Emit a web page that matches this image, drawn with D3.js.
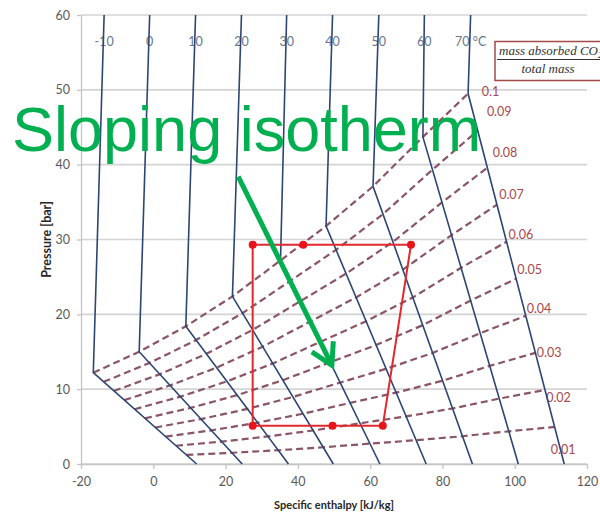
<!DOCTYPE html>
<html>
<head>
<meta charset="utf-8">
<script src="https://cdn.jsdelivr.net/npm/d3@7"></script>
<style>
  html, body { margin: 0; padding: 0; background: #ffffff; }
  svg { display: block; }
</style>
</head>
<body>
<svg id="chart" width="600" height="514"></svg>
<script>
// Isotherms in °C. Each one drops almost vertically from 60 bar to its knee,
// then slopes down to the 0 bar line.
const temperatures = [-10, 0, 10, 20, 30, 40, 50, 60, 70];
const temperatureLabels = ["-10", "0", "10", "20", "30", "40", "50", "60", "70 °C"];
const topEnthalpy  = [-13.6, -1.0, 11.7, 24.4, 36.9, 49.6, 62.4, 75.0, 87.8];   // kJ/kg at 60 bar
const kneeEnthalpy = [-16.6, -3.9, 9.0, 21.9, 35.2, 47.8, 60.8, 74.6, 87.1];    // kJ/kg at the knee
const kneePressure = [12.2, 15.0, 18.4, 22.4, 27.2, 31.8, 37.1, 43.7, 49.5];    // bar at the knee
const baseEnthalpy = [12.0, 24.6, 37.4, 49.8, 62.7, 75.5, 88.3, 101.0, 113.7];  // kJ/kg at 0 bar

// Mass fraction of absorbed CO2: 0 on the 0 bar line, 0.1 at the isotherm knees
const concentrations = [0.01, 0.02, 0.03, 0.04, 0.05, 0.06, 0.07, 0.08, 0.09, 0.1];
const concentrationLabels = ["0.01", "0.02", "0.03", "0.04", "0.05", "0.06", "0.07", "0.08", "0.09", "0.1"];

// Cycle drawn on top of the chart
const cycleEnthalpy = [27.5, 41.5, 71.3, 63.5, 49.6, 27.5];
const cyclePressure = [29.3, 29.3, 29.3, 5.1, 5.1, 5.1];

const xTicks = [-20, 0, 20, 40, 60, 80, 100, 120];
const yTicks = [0, 10, 20, 30, 40, 50, 60];

// Where each concentration label sits (enthalpy, pressure of its left/middle point)
const concentrationLabelAt = [
  [110.0, 1.9], [108.7, 8.9], [106.1, 14.9], [103.3, 20.7], [100.7, 26.0],
  [98.3, 30.6], [95.7, 36.0], [93.9, 41.6], [92.3, 47.1], [90.9, 49.8]
];
const temperatureLabelPressure = 56.4;

// Annotation arrow (enthalpy, pressure)
const arrowFrom = [23.5, 38.4];
const arrowTo = [49.4, 13.2];

const svg = d3.select("#chart");
const x = d3.scaleLinear().domain([-20, 120]).range([81, 587]);
const y = d3.scaleLinear().domain([0, 60]).range([464, 15]);

const tickFont = "Lato, 'Open Sans', sans-serif";
const plainNumber = d => String(d);

// Horizontal gridlines
svg.append("g")
  .selectAll("line")
  .data(yTicks)
  .join("line")
  .attr("x1", x(-20)).attr("x2", x(120))
  .attr("y1", d => y(d)).attr("y2", d => y(d))
  .attr("stroke", "#d4d4d4")
  .attr("stroke-width", 1.6);

// Axes
const yAxis = svg.append("g")
  .attr("transform", `translate(${x(-20)},0)`)
  .call(d3.axisLeft(y).tickValues(yTicks).tickFormat(plainNumber)
    .tickSize(4).tickPadding(7).tickSizeOuter(0));
const xAxis = svg.append("g")
  .attr("transform", `translate(0,${y(0)})`)
  .call(d3.axisBottom(x).tickValues(xTicks).tickFormat(plainNumber)
    .tickSize(5).tickPadding(8).tickSizeOuter(0));
[yAxis, xAxis].forEach(g => {
  g.select(".domain").attr("stroke", "#c4c4c4").attr("stroke-width", 1.3);
  g.selectAll(".tick line").attr("stroke", "#c4c4c4").attr("stroke-width", 1.3);
  g.selectAll(".tick text")
    .attr("fill", "#595959")
    .style("font-family", tickFont)
    .style("font-size", "12.5px");
});

// Axis titles
svg.append("text")
  .attr("x", (x(-20) + x(120)) / 2)
  .attr("y", 509)
  .attr("text-anchor", "middle")
  .attr("fill", "#262626")
  .style("font-family", tickFont)
  .style("font-weight", "bold")
  .style("font-size", "11px")
  .text("Specific enthalpy [kJ/kg]");
svg.append("text")
  .attr("transform", `translate(51,${(y(0) + y(60)) / 2}) rotate(-90)`)
  .attr("text-anchor", "middle")
  .attr("fill", "#262626")
  .style("font-family", tickFont)
  .style("font-weight", "bold")
  .style("font-size", "12.5px")
  .text("Pressure [bar]");

// Temperature labels (drawn before the isotherms so the lines cross them)
svg.append("g")
  .selectAll("text")
  .data(temperatures)
  .join("text")
  .attr("x", (d, i) => x(topEnthalpy[i]))
  .attr("y", y(temperatureLabelPressure))
  .attr("dy", "0.35em")
  .attr("text-anchor", "middle")
  .attr("fill", "#66768f")
  .style("font-family", tickFont)
  .style("font-size", "12.5px")
  .text((d, i) => temperatureLabels[i]);

// Concentration lines: each crosses every isotherm's sloping leg at the
// point that the concentration scale of that leg gives
const line = d3.line();
const concentrationPoints = c => temperatures.map((t, i) => {
  const hScale = d3.scaleLinear().domain([0, 0.1]).range([baseEnthalpy[i], kneeEnthalpy[i]]);
  const pScale = d3.scaleLinear().domain([0, 0.1]).range([0, kneePressure[i]]);
  return [x(hScale(c)), y(pScale(c))];
});
svg.append("g")
  .selectAll("path")
  .data(concentrations)
  .join("path")
  .attr("d", c => line(concentrationPoints(c)))
  .attr("fill", "none")
  .attr("stroke", "#8a5564")
  .attr("stroke-width", 2.2)
  .attr("stroke-dasharray", "7,4");

// Concentration labels
svg.append("g")
  .selectAll("text")
  .data(concentrations)
  .join("text")
  .attr("x", (d, i) => x(concentrationLabelAt[i][0]))
  .attr("y", (d, i) => y(concentrationLabelAt[i][1]))
  .attr("dy", "0.35em")
  .attr("fill", "#a8474f")
  .style("font-family", tickFont)
  .style("font-size", "12.5px")
  .text((d, i) => concentrationLabels[i]);

// Isotherms
svg.append("g")
  .selectAll("path")
  .data(temperatures)
  .join("path")
  .attr("d", (t, i) => line([
    [x(topEnthalpy[i]), y(60)],
    [x(kneeEnthalpy[i]), y(kneePressure[i])],
    [x(baseEnthalpy[i]), y(0)]
  ]))
  .attr("fill", "none")
  .attr("stroke", "#2d4673")
  .attr("stroke-width", 1.6);

// Legend: mass fraction definition
const legend = svg.append("g");
legend.append("rect")
  .attr("x", 495).attr("y", 41.5)
  .attr("width", 120).attr("height", 39)
  .attr("fill", "#ffffff")
  .attr("stroke", "#a34a4a")
  .attr("stroke-width", 1.5);
const numerator = legend.append("text")
  .attr("x", 499).attr("y", 55)
  .attr("fill", "#333333")
  .style("font-family", "'Liberation Serif', 'DejaVu Serif', serif")
  .style("font-style", "italic")
  .style("font-size", "13px");
numerator.append("tspan").text("mass absorbed CO");
numerator.append("tspan").attr("dy", 3).style("font-size", "9px").text("2");
legend.append("line")
  .attr("x1", 497).attr("x2", 605)
  .attr("y1", 59.5).attr("y2", 59.5)
  .attr("stroke", "#333333")
  .attr("stroke-width", 1);
legend.append("text")
  .attr("x", 548).attr("y", 73)
  .attr("text-anchor", "middle")
  .attr("fill", "#333333")
  .style("font-family", "'Liberation Serif', 'DejaVu Serif', serif")
  .style("font-style", "italic")
  .style("font-size", "13px")
  .text("total mass");

// Cycle
const cyclePts = cycleEnthalpy.map((h, i) => [x(h), y(cyclePressure[i])]);
svg.append("path")
  .attr("d", line(cyclePts) + "Z")
  .attr("fill", "none")
  .attr("stroke", "#e0282e")
  .attr("stroke-width", 2);
svg.append("g")
  .selectAll("circle")
  .data(cyclePts)
  .join("circle")
  .attr("cx", d => d[0]).attr("cy", d => d[1])
  .attr("r", 4)
  .attr("fill", "#e8141c");

// Annotation
const green = "#00b050";
svg.append("text")
  .attr("x", 12).attr("y", 151)
  .attr("fill", green)
  .style("font-family", "'Liberation Sans', Arial, sans-serif")
  .style("font-size", "63px")
  .text("Sloping isotherm");

const a0 = [x(arrowFrom[0]), y(arrowFrom[1])];
const a1 = [x(arrowTo[0]), y(arrowTo[1])];
const ang = Math.atan2(a0[1] - a1[1], a0[0] - a1[0]);
const wing = 24, spread = Math.PI / 6;
const headPts = [
  [a1[0] + wing * Math.cos(ang + spread), a1[1] + wing * Math.sin(ang + spread)],
  a1,
  [a1[0] + wing * Math.cos(ang - spread), a1[1] + wing * Math.sin(ang - spread)]
];
svg.append("path")
  .attr("d", line([a0, a1]))
  .attr("stroke", green)
  .attr("stroke-width", 5)
  .attr("fill", "none");
svg.append("path")
  .attr("d", line(headPts))
  .attr("stroke", green)
  .attr("stroke-width", 5)
  .attr("stroke-linejoin", "miter")
  .attr("fill", "none");
</script>
</body>
</html>
